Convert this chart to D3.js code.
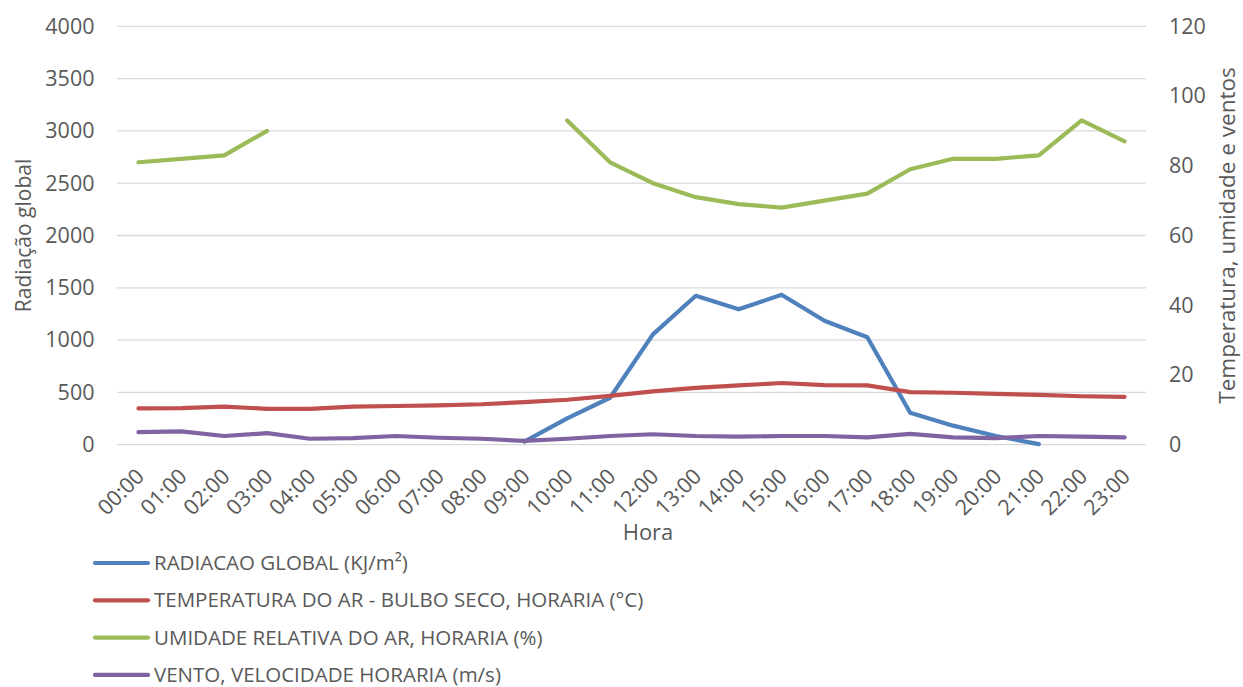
<!DOCTYPE html>
<html>
<head>
<meta charset="utf-8">
<script src="https://cdn.jsdelivr.net/npm/d3@7"></script>
<style>
  html, body { margin: 0; padding: 0; background: #fff; }
  svg { display: block; font-family: "Open Sans", "Liberation Sans", sans-serif; }
</style>
</head>
<body>
<svg id="chart" width="1243" height="687"></svg>
<script>
// Hourly weather station readings
const hours = ["00:00","01:00","02:00","03:00","04:00","05:00","06:00","07:00","08:00","09:00","10:00","11:00",
               "12:00","13:00","14:00","15:00","16:00","17:00","18:00","19:00","20:00","21:00","22:00","23:00"];

// Global radiation (KJ/m²) - left axis; null = no reading
const radiation = [null,null,null,null,null,null,null,null,null,30,252,449,
                   1055,1424,1294,1434,1185,1027,306,182,83,5,null,null];
// Air temperature (°C) - right axis
const temperature = [10.4,10.5,10.9,10.3,10.3,10.9,11.1,11.3,11.6,12.2,12.9,14.0,
                     15.3,16.3,17.0,17.7,17.1,17.0,15.1,14.9,14.6,14.3,13.9,13.7];
// Relative humidity (%) - right axis
const humidity = [81,82,83,90,null,null,null,null,null,null,93,81,
                  75,71,69,68,70,72,79,82,82,83,93,87];
// Wind speed (m/s) - right axis
const wind = [3.6,3.8,2.5,3.3,1.7,1.9,2.5,2.0,1.7,1.1,1.7,2.5,
              3.0,2.5,2.3,2.5,2.5,2.1,3.1,2.1,1.9,2.5,2.3,2.1];

const leftTicks = [0,500,1000,1500,2000,2500,3000,3500,4000];
const rightTicks = [0,20,40,60,80,100,120];

const seriesNames = ["RADIACAO GLOBAL (KJ/m²)",
                     "TEMPERATURA DO AR - BULBO SECO, HORARIA (°C)",
                     "UMIDADE RELATIVA DO AR, HORARIA (%)",
                     "VENTO, VELOCIDADE HORARIA (m/s)"];
const seriesColors = ["#4F81BD","#C0504D","#9BBB59","#8064A2"];

const svg = d3.select("#chart");
const plot = {left: 117, right: 1146, top: 26.3, bottom: 444.7};
const textColor = "#595959";
const tickFont = "21.5px";

const x = d3.scaleBand().domain(hours).range([plot.left, plot.right]);
const yL = d3.scaleLinear().domain([0, 4000]).range([plot.bottom, plot.top]);
const yR = d3.scaleLinear().domain([0, 120]).range([plot.bottom, plot.top]);
const cx = h => x(h) + x.bandwidth() / 2;

// Horizontal gridlines
svg.append("g").selectAll("line").data(leftTicks).join("line")
  .attr("x1", plot.left).attr("x2", plot.right)
  .attr("y1", d => yL(d)).attr("y2", d => yL(d))
  .attr("stroke", "#d9d9d9").attr("stroke-width", 1.3);

// Left axis
const leftAxis = svg.append("g")
  .attr("transform", `translate(${plot.left},0)`)
  .call(d3.axisLeft(yL).tickValues(leftTicks).tickSize(0).tickPadding(22.5).tickFormat(d3.format("d")));
leftAxis.select(".domain").remove();
leftAxis.selectAll("text").attr("fill", textColor).style("font-size", tickFont)
  .style("font-family", "'Open Sans', sans-serif");

// Right axis
const rightAxis = svg.append("g")
  .attr("transform", `translate(${plot.right},0)`)
  .call(d3.axisRight(yR).tickValues(rightTicks).tickSize(0).tickPadding(23).tickFormat(d3.format("d")));
rightAxis.select(".domain").remove();
rightAxis.selectAll("text").attr("fill", textColor).style("font-size", tickFont)
  .style("font-family", "'Open Sans', sans-serif");

// Category axis labels, rotated
const bottomAxis = svg.append("g")
  .attr("transform", `translate(0,${plot.bottom})`)
  .call(d3.axisBottom(x).tickSize(0).tickPadding(0));
bottomAxis.select(".domain").remove();
bottomAxis.selectAll("text")
  .attr("fill", textColor).style("font-size", tickFont)
  .style("font-family", "'Open Sans', sans-serif")
  .attr("text-anchor", "end")
  .attr("dy", null)
  .attr("y", 0)
  .attr("transform", "translate(7,33) rotate(-45)");

// Axis titles
svg.append("text").text("Hora")
  .attr("x", 648).attr("y", 540)
  .attr("text-anchor", "middle").attr("fill", textColor).style("font-size", "22px");

svg.append("text").text("Radiação global")
  .attr("transform", `translate(31,${(plot.top + plot.bottom) / 2}) rotate(-90)`)
  .attr("text-anchor", "middle").attr("fill", textColor).style("font-size", "21px");

svg.append("text").text("Temperatura, umidade e ventos")
  .attr("transform", `translate(1235,${(plot.top + plot.bottom) / 2}) rotate(-90)`)
  .attr("text-anchor", "middle").attr("fill", textColor).style("font-size", "22.5px");

// Series lines
const series = [
  {values: radiation, scale: yL},
  {values: temperature, scale: yR},
  {values: humidity, scale: yR},
  {values: wind, scale: yR}
];

series.forEach((s, i) => {
  const line = d3.line()
    .defined(d => d != null)
    .x((d, j) => cx(hours[j]))
    .y(d => s.scale(d));
  svg.append("path")
    .datum(s.values)
    .attr("d", line)
    .attr("fill", "none")
    .attr("stroke", seriesColors[i])
    .attr("stroke-width", 4.2)
    .attr("stroke-linejoin", "round")
    .attr("stroke-linecap", "round");
});

// Legend
const legend = svg.append("g").selectAll("g").data(seriesNames).join("g")
  .attr("transform", (d, i) => `translate(0,${563 + i * 37.3})`);
legend.append("line")
  .attr("x1", 95).attr("x2", 148).attr("y1", 0).attr("y2", 0)
  .attr("stroke", (d, i) => seriesColors[i])
  .attr("stroke-width", 4.2).attr("stroke-linecap", "round");
legend.append("text").text(d => d)
  .attr("x", 154).attr("y", 0).attr("dy", "0.35em")
  .attr("fill", textColor).style("font-size", "20.5px");
</script>
</body>
</html>
